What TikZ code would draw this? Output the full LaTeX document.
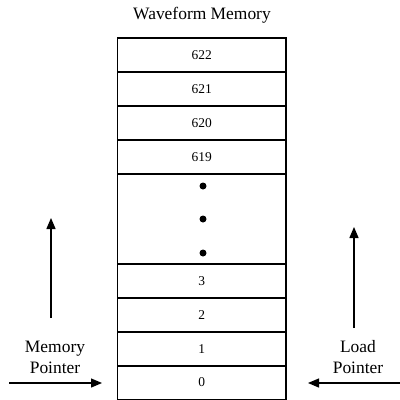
\documentclass[tikz,border=0pt]{standalone}
\usepackage{fontspec}
\setmainfont{Liberation Serif}
\usetikzlibrary{arrows.meta}
\begin{document}
\begin{tikzpicture}[x=1bp,y=-1bp,
  cell/.style={draw, line width=1.1bp, minimum width=168.5bp, minimum height=34bp,
    inner sep=0pt, outer sep=0pt, font=\fontsize{13.5}{15}\selectfont},
  gapcell/.style={cell, minimum height=90bp},
  label/.style={align=center, font=\fontsize{17.5}{21}\selectfont},
  dotmark/.style={circle, fill=black, inner sep=0pt, minimum size=7bp},
  ptr/.style={line width=1.3bp, -{Triangle[length=11bp,width=9bp]}}]
\useasboundingbox (0,0) rectangle (400,400);

% title
\node[label] (title) at (202,15) {Waveform Memory};

% memory cells, top to bottom
\node[cell] (m622) at (201.75,55) {622};
\node[cell] (m621) at (201.75,89) {621};
\node[cell] (m620) at (201.75,123) {620};
\node[cell] (m619) at (201.75,157) {619};
\node[gapcell] (mgap) at (201.75,219) {};
\node[cell] (m3) at (201.75,281) {3};
\node[cell] (m2) at (201.75,315) {2};
\node[cell] (m1) at (201.75,349) {1};
\node[cell] (m0) at (201.75,382.5) {0};

% ellipsis dots
\node[dotmark] (d1) at (203,186) {};
\node[dotmark] (d2) at (203,219) {};
\node[dotmark] (d3) at (203,253) {};

% pointer labels
\node[label] (mp) at (55,357) {Memory\\Pointer};
\node[label] (lp) at (358,357) {Load\\Pointer};

% pointer arrows
\coordinate (mpup0) at (51,318);
\coordinate (mpup1) at (51,218);
\coordinate (lpup0) at (354,328);
\coordinate (lpup1) at (354,227);
\coordinate (mpin) at (9,383);
\coordinate (mptip) at (102,383);
\coordinate (lpin) at (400,383);
\coordinate (lptip) at (308,383);

\draw[ptr] (mpup0) -- (mpup1);
\draw[ptr] (lpup0) -- (lpup1);
\draw[ptr] (mpin) -- (mptip);
\draw[ptr] (lpin) -- (lptip);
\end{tikzpicture}
\end{document}
